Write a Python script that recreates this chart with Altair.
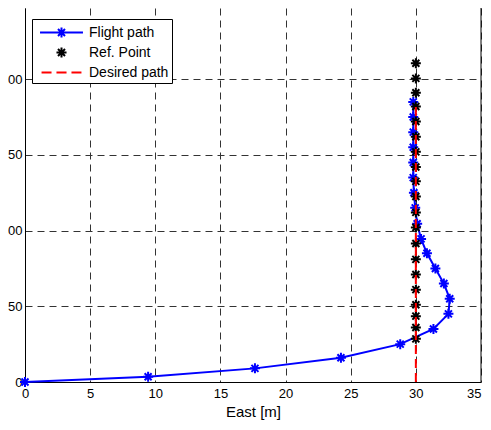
import altair as alt
import pandas as pd

# ---- data ----
flight_x = [0, 9.45, 17.65, 24.25, 28.8, 31.35, 32.5, 32.6, 32.15, 31.5, 30.85,
            30.4, 30.1, 29.95, 29.85, 29.8, 29.8, 29.8, 29.8, 29.8, 29.8]
flight_y = [0, 3.5, 9, 16, 25, 35, 45, 55, 65, 75, 85,
            94.5, 104.5, 115, 125, 135, 145, 155, 165, 175, 185]

ref_y = [28.5, 36, 43.5, 51, 61, 71, 81, 91.5, 102, 112, 122.5, 132.5,
         142, 152, 162, 172, 182, 191, 200.5, 210.5]
ref_x = [30] * len(ref_y)

desired_x = [30, 30]
desired_y = [0, 185]

series = ["Flight path", "Ref. Point", "Desired path"]
colors = ["#0000ff", "#000000", "#ff0000"]

x_ticks = [0, 5, 10, 15, 20, 25, 30, 35]
y_ticks = [0, 50, 100, 150, 200]
right_border = [35]

FONT = "Liberation Sans"
STAR = "M-1,0H1M0,-1V1M-0.7,-0.7L0.7,0.7M-0.7,0.7L0.7,-0.7"
LEG_FLIGHT = "M-2.26,0H2.26M-0.53,0H0.53M0,-0.53V0.53M-0.37,-0.37L0.37,0.37M-0.37,0.37L0.37,-0.37"
LEG_REF = "M-0.53,0H0.53M0,-0.53V0.53M-0.37,-0.37L0.37,0.37M-0.37,0.37L0.37,-0.37"
LEG_DES = "M-2.1,0H-1.05M-0.53,0H0.53M1.05,0H2.1"

xscale = alt.Scale(domain=[0, 35], nice=False, zero=False)
yscale = alt.Scale(domain=[0, 247], nice=False, zero=False)

xaxis = alt.Axis(
    values=x_ticks, title="East [m]", grid=True, ticks=False,
    labelPadding=5, titlePadding=4,
    labelAlign={"condition": {"test": "datum.value == 35", "value": "right"}, "value": "center"},
)
yaxis = alt.Axis(values=y_ticks, title=None, grid=True, ticks=False,
                 labelPadding=3, labelExpr="slice(datum.label, -2)")

df_f = pd.DataFrame({"x": flight_x, "y": flight_y, "i": list(range(len(flight_x)))})
df_r = pd.DataFrame({"x": ref_x, "y": ref_y})
df_d = pd.DataFrame({"x": desired_x, "y": desired_y})
df_b = pd.DataFrame({"v": right_border})
df_leg = pd.DataFrame({"series": series, "x": [0, 0, 0], "y": [0, 0, 0]})

X = alt.X("x:Q", scale=xscale, axis=xaxis)
Y = alt.Y("y:Q", scale=yscale, axis=yaxis)

flight_line = alt.Chart(df_f).mark_line(color="#0000ff", strokeWidth=2).encode(
    x=X, y=Y, order="i:Q")
flight_pts = alt.Chart(df_f).mark_point(
    shape=STAR, size=100, strokeWidth=2, color="#0000ff", filled=False, opacity=1
).encode(x=X, y=Y)
ref_pts = alt.Chart(df_r).mark_point(
    shape=STAR, size=100, strokeWidth=2, color="#000000", filled=False, opacity=1
).encode(x=X, y=Y)
desired = alt.Chart(df_d).mark_line(
    color="#ff0000", strokeWidth=2, strokeDash=[9, 5]
).encode(x=X, y=Y)
border = alt.Chart(df_b).mark_rule(color="black", strokeWidth=1).encode(
    x=alt.X("v:Q", scale=xscale))

legend = alt.Legend(
    title=None, orient="none", legendX=7, legendY=11, padding=3,
    rowPadding=0, symbolOffset=16, labelOffset=17, symbolSize=361,
    symbolStrokeWidth=2, labelFont=FONT, labelFontSize=14, labelColor="black",
    fillColor="white", strokeColor="black", cornerRadius=0,
)
leg = alt.Chart(df_leg).transform_filter("false").mark_point(
    filled=False, opacity=1, strokeWidth=2
).encode(
    x=X, y=Y,
    color=alt.Color("series:N", scale=alt.Scale(domain=series, range=colors), legend=legend),
    shape=alt.Shape("series:N", scale=alt.Scale(domain=series, range=[LEG_FLIGHT, LEG_REF, LEG_DES]), legend=legend),
)

chart = alt.layer(flight_line, flight_pts, ref_pts, desired, border, leg).properties(
    width=456, height=374,
    autosize=alt.AutoSizeParams(type="none"),
    padding={"left": 17, "top": 0, "right": 1, "bottom": 39},
    background="white",
).configure_view(stroke="transparent").configure_axis(
    gridDash=[7, 5], gridColor="#333333", gridWidth=1, gridOpacity=1,
    domainColor="black", domainWidth=1,
    labelFont=FONT, labelFontSize=13, labelColor="black",
    titleFont=FONT, titleFontSize=15, titleFontWeight="normal", titleColor="black",
)

chart.save("out.html", embed_options={"renderer": "svg", "actions": False})
